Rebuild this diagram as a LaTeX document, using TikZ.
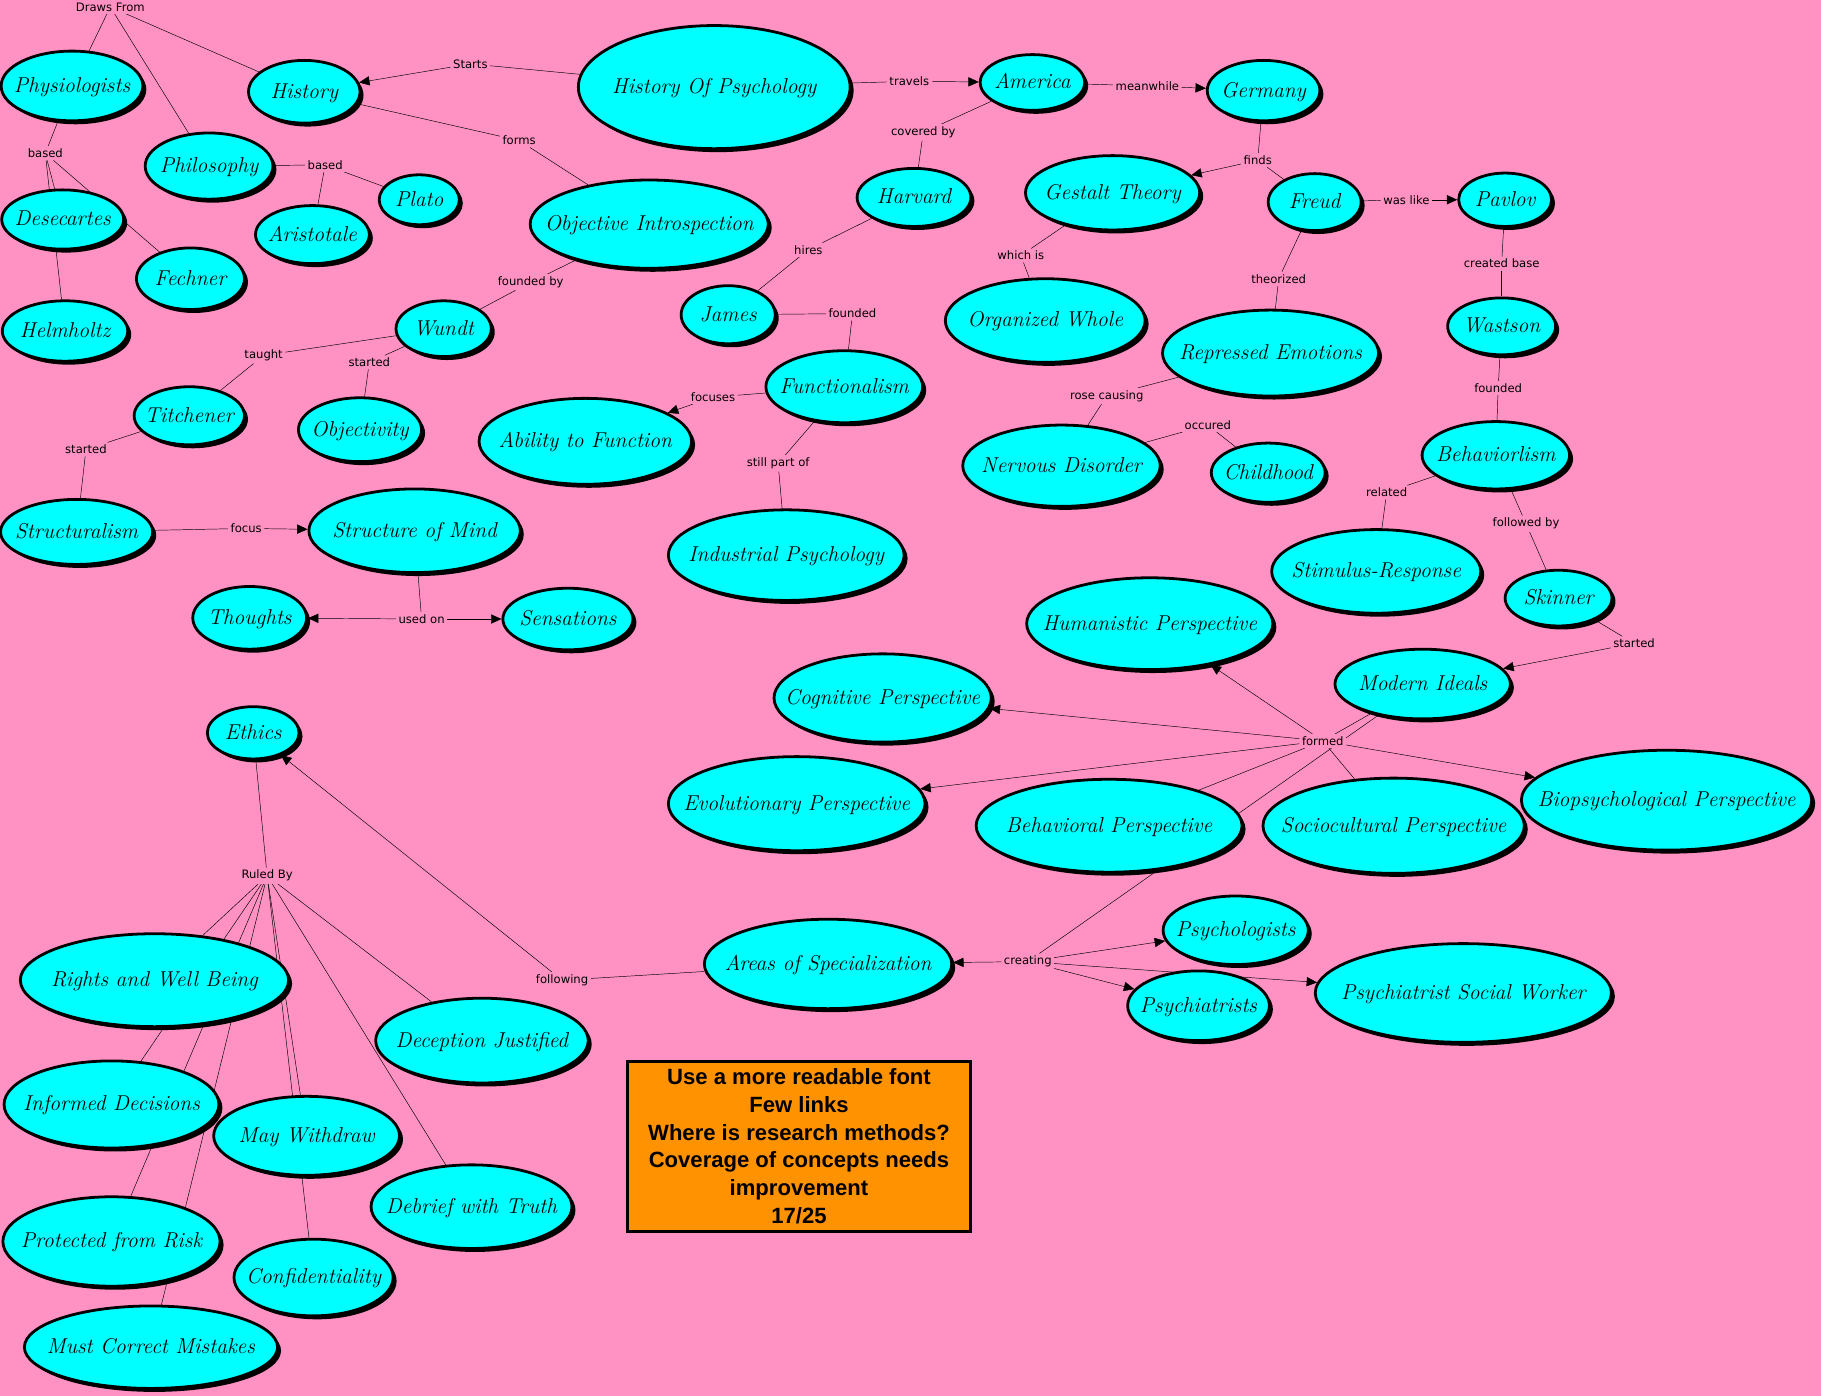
\documentclass[tikz,border=0pt]{standalone}
\usepackage{fontspec}
\usetikzlibrary{shapes.geometric,shadows,arrows.meta}
\newfontfamily\linkfont{DejaVu Sans}
\newfontfamily\notefont{Liberation Sans}
\definecolor{pinkbg}{RGB}{255,146,194}
\definecolor{conceptfill}{RGB}{0,255,255}
\definecolor{noteorange}{RGB}{255,146,0}
\pgfdeclarelayer{bg}
\pgfdeclarelayer{links}
\pgfsetlayers{bg,links,main}
\newcommand\ctext[1]{\smash{\raisebox{-.3em}{\makebox[0pt]{#1}}}}
\tikzset{
  concept/.style 2 args={ellipse,draw,line width=2.4pt,fill=conceptfill,inner sep=0pt,
    minimum width=#1pt,minimum height=#2pt,
    drop shadow={shadow xshift=3pt,shadow yshift=-3pt,fill=black,opacity=1},
    font=\fontsize{18.5}{21}\selectfont\itshape},
  link/.style={fill=pinkbg,inner sep=2pt,font=\linkfont\fontsize{10}{12}\selectfont},
  arr/.style={-{Triangle[length=9pt,width=8pt]}},
  notebox/.style={draw,line width=2.5pt,fill=noteorange,minimum width=296pt,minimum height=146pt,
    align=center,inner sep=2pt,font=\notefont\bfseries\fontsize{19}{23.8}\selectfont}
}
\begin{document}
\begin{tikzpicture}[x=1pt,y=-1pt,line width=.9pt]
  \begin{pgfonlayer}{bg}
    \fill[pinkbg] (0,0) rectangle (1568,1202);
  \end{pgfonlayer}
  \useasboundingbox (0,0) rectangle (1568,1202);
  % history, philosophy, physiology
  \node[concept={122}{60}] (phys) at (62,74) {\ctext{Physiologists}};
  \node[concept={96}{54}] (hist) at (262,79) {\ctext{History}};
  \node[concept={234}{106}] (hop) at (615,75) {\ctext{History Of Psychology}};
  \node[concept={110}{57}] (philo) at (180,143) {\ctext{Philosophy}};
  \node[concept={69}{43}] (plato) at (361,172) {\ctext{Plato}};
  \node[concept={98}{50}] (arist) at (269,202) {\ctext{Aristotale}};
  \node[concept={105}{51}] (desc) at (54,189) {\ctext{Desecartes}};
  \node[concept={93}{53}] (fech) at (164,240) {\ctext{Fechner}};
  \node[concept={108}{52}] (helm) at (56,285) {\ctext{Helmholtz}};
  \node[concept={205}{76}] (objint) at (559,193) {\ctext{Objective Introspection}};
  \node[concept={82}{48}] (wundt) at (382,283) {\ctext{Wundt}};
  \node[concept={95}{50}] (titch) at (163,358) {\ctext{Titchener}};
  \node[concept={106}{55}] (objty) at (310,370) {\ctext{Objectivity}};
  \node[concept={131}{56}] (struc) at (66,458) {\ctext{Structuralism}};
  \node[concept={182}{72}] (strmind) at (357,457) {\ctext{Structure of Mind}};
  \node[concept={98}{54}] (thou) at (215,532) {\ctext{Thoughts}};
  \node[concept={112}{53}] (sens) at (489,533) {\ctext{Sensations}};
  % america
  \node[concept={90}{48}] (amer) at (889,71) {\ctext{America}};
  \node[concept={98}{50}] (harv) at (787,170) {\ctext{Harvard}};
  \node[concept={81}{50}] (james) at (627,271) {\ctext{James}};
  \node[concept={135}{62}] (func) at (727,333) {\ctext{Functionalism}};
  \node[concept={183}{74}] (abil) at (504,380) {\ctext{Ability to Function}};
  \node[concept={203}{78}] (indpsy) at (677,478) {\ctext{Industrial Psychology}};
  % germany
  \node[concept={97}{52}] (germ) at (1088,78) {\ctext{Germany}};
  \node[concept={150}{64}] (gest) at (958,166) {\ctext{Gestalt Theory}};
  \node[concept={80}{49}] (freud) at (1132,174) {\ctext{Freud}};
  \node[concept={80}{46}] (pavlov) at (1296,172) {\ctext{Pavlov}};
  \node[concept={172}{72}] (orgw) at (900,276) {\ctext{Organized Whole}};
  \node[concept={186}{74}] (repem) at (1094,304) {\ctext{Repressed Emotions}};
  \node[concept={93}{49}] (wats) at (1293,281) {\ctext{Wastson}};
  \node[concept={170}{70}] (nerv) at (914,401) {\ctext{Nervous Disorder}};
  \node[concept={98}{51}] (child) at (1092,407) {\ctext{Childhood}};
  \node[concept={127}{58}] (behav) at (1288,392) {\ctext{Behaviorlism}};
  \node[concept={180}{72}] (stimr) at (1185,492) {\ctext{Stimulus-Response}};
  \node[concept={92}{48}] (skin) at (1342,515) {\ctext{Skinner}};
  % modern ideals
  \node[concept={212}{79}] (human) at (990,537) {\ctext{Humanistic Perspective}};
  \node[concept={151}{60}] (modern) at (1225,589) {\ctext{Modern Ideals}};
  \node[concept={187}{76}] (cogn) at (760,601) {\ctext{Cognitive Perspective}};
  \node[concept={221}{81}] (evol) at (686,692) {\ctext{Evolutionary Perspective}};
  \node[concept={229}{80}] (behp) at (955,711) {\ctext{Behavioral Perspective}};
  \node[concept={225}{82}] (socio) at (1200,711) {\ctext{Sociocultural Perspective}};
  \node[concept={250}{86}] (biop) at (1435,689) {\ctext{Biopsychological Perspective}};
  \node[concept={125}{59}] (psylog) at (1064,801) {\ctext{Psychologists}};
  \node[concept={122}{60}] (psyat) at (1032,866) {\ctext{Psychiatrists}};
  \node[concept={255}{85}] (psysw) at (1260,855) {\ctext{Psychiatrist Social Worker}};
  \node[concept={213}{77}] (areas) at (713,830) {\ctext{Areas of Specialization}};
  % ethics
  \node[concept={79}{45}] (ethics) at (218,631) {\ctext{Ethics}};
  \node[concept={231}{80}] (rights) at (133,844) {\ctext{Rights and Well Being}};
  \node[concept={183}{73}] (decep) at (415,896) {\ctext{Deception Justified}};
  \node[concept={185}{75}] (inform) at (96,951) {\ctext{Informed Decisions}};
  \node[concept={160}{68}] (maywd) at (264,978) {\ctext{May Withdraw}};
  \node[concept={173}{72}] (debrief) at (406,1039) {\ctext{Debrief with Truth}};
  \node[concept={187}{77}] (protect) at (96,1069) {\ctext{Protected from Risk}};
  \node[concept={137}{66}] (confid) at (270,1100) {\ctext{Confidentiality}};
  \node[concept={218}{71}] (mustc) at (130,1160) {\ctext{Must Correct Mistakes}};
  \node[notebox] (note) at (688,987) {Use a more readable font\\Few links\\Where is research methods?\\Coverage of concepts needs\\improvement\\17/25};
  % linking words
  \node[link] (l-draws) at (95,6) {Draws From};
  \node[link] (l-starts) at (405,55) {Starts};
  \node[link] (l-forms) at (447,121) {forms};
  \node[link] (l-based1) at (39,132) {based};
  \node[link] (l-based2) at (280,142) {based};
  \node[link] (l-travels) at (783,70) {travels};
  \node[link] (l-meanwhile) at (988,74) {meanwhile};
  \node[link] (l-covered) at (795,114) {covered by};
  \node[link] (l-finds) at (1083,138) {finds};
  \node[link] (l-waslike) at (1211,172) {was like};
  \node[link] (l-hires) at (696,215) {hires};
  \node[link] (l-which) at (879,220) {which is};
  \node[link] (l-theor) at (1101,240) {theorized};
  \node[link] (l-created) at (1293,227) {created base};
  \node[link] (l-founded1) at (734,270) {founded};
  \node[link] (l-foundedby) at (457,243) {founded by};
  \node[link] (l-taught) at (227,306) {taught};
  \node[link] (l-started1) at (318,312) {started};
  \node[link] (l-started2) at (74,387) {started};
  \node[link] (l-focuses) at (614,342) {focuses};
  \node[link] (l-still) at (670,399) {still part of};
  \node[link] (l-rose) at (953,341) {rose causing};
  \node[link] (l-occ) at (1040,366) {occured};
  \node[link] (l-founded2) at (1290,334) {founded};
  \node[link] (l-related) at (1194,424) {related};
  \node[link] (l-followed) at (1314,451) {followed by};
  \node[link] (l-focus) at (212,455) {focus};
  \node[link] (l-usedon) at (363,533) {used on};
  \node[link] (l-started3) at (1407,554) {started};
  \node[link] (l-formed) at (1139,638) {formed};
  \node[link] (l-ruled) at (230,754) {Ruled By};
  \node[link] (l-following) at (484,844) {following};
  \node[link] (l-creating) at (885,828) {creating};
  % connectors
  \begin{pgfonlayer}{links}
    \draw (l-draws) edge (phys) edge (philo) edge (hist);
    \draw (hop) -- (l-starts); \draw[arr] (l-starts) -- (hist);
    \draw (l-forms) edge (hist) edge (objint);
    \draw (l-based1) edge (phys) edge (desc) edge (helm) edge (fech);
    \draw (l-based2) edge (philo) edge (arist) edge (plato);
    \draw (hop) -- (l-travels); \draw[arr] (l-travels) -- (amer);
    \draw (amer) -- (l-meanwhile); \draw[arr] (l-meanwhile) -- (germ);
    \draw (l-covered) edge (amer) edge (harv);
    \draw (l-hires) edge (harv) edge (james);
    \draw (l-founded1) edge (james) edge (func);
    \draw (l-foundedby) edge (objint) edge (wundt);
    \draw (l-taught) edge (wundt) edge (titch);
    \draw (l-started1) edge (wundt) edge (objty);
    \draw (l-started2) edge (titch) edge (struc);
    \draw (struc) -- (l-focus); \draw[arr] (l-focus) -- (strmind);
    \draw (strmind) -- (l-usedon); \draw (l-usedon) edge[arr] (thou) edge[arr] (sens);
    \draw (func) -- (l-focuses); \draw[arr] (l-focuses) -- (abil);
    \draw (l-still) edge (func) edge (indpsy);
    \draw (l-finds) edge (germ) edge (freud) edge[arr] (gest);
    \draw (l-which) edge (gest) edge (orgw);
    \draw (freud) -- (l-waslike); \draw[arr] (l-waslike) -- (pavlov);
    \draw (l-theor) edge (freud) edge (repem);
    \draw (l-rose) edge (repem) edge (nerv);
    \draw (l-occ) edge (nerv) edge (child);
    \draw (l-created) edge (pavlov) edge (wats);
    \draw (l-founded2) edge (wats) edge (behav);
    \draw (l-related) edge (behav) edge (stimr);
    \draw (l-followed) edge (behav) edge (skin);
    \draw (skin) -- (l-started3); \draw[arr] (l-started3) -- (modern);
    \draw (l-formed) edge (modern) edge (behp) edge (socio)
      edge[arr] (human) edge[arr] (cogn) edge[arr] (evol) edge[arr] (biop);
    \draw (l-creating) edge (modern) edge[arr] (areas) edge[arr] (psylog)
      edge[arr] (psyat) edge[arr] (psysw);
    \draw (areas) -- (l-following); \draw[arr] (l-following) -- (ethics);
    \draw (l-ruled) edge (ethics) edge (rights) edge (inform) edge (protect) edge (mustc)
      edge (maywd) edge (confid) edge (decep) edge (debrief);
  \end{pgfonlayer}
\end{tikzpicture}
\end{document}
